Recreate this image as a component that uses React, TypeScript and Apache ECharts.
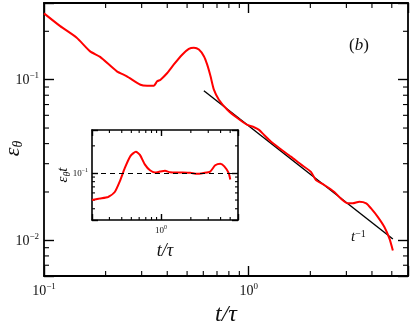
import React, { useEffect, useRef } from 'react';
import * as echarts from 'echarts';

// main curve: eps_theta vs t/tau
const mainT = [0.1, 0.12, 0.1445, 0.168, 0.188, 0.227, 0.254, 0.296, 0.319, 0.344, 0.357, 0.371, 0.40, 0.43, 0.473, 0.51, 0.54, 0.571, 0.604, 0.627, 0.651, 0.676, 0.715, 0.786, 0.88, 0.985, 1.062, 1.123, 1.189, 1.282, 1.435, 1.607, 1.798, 2.014, 2.13, 2.34, 2.62, 2.82, 3.05, 3.22, 3.47, 3.75, 3.96, 4.27, 4.6, 4.87, 5.06];
const mainEps = [0.2585, 0.2153, 0.1824, 0.150, 0.1387, 0.1127, 0.105, 0.093, 0.0917, 0.0917, 0.0976, 0.1, 0.11, 0.124, 0.143, 0.1555, 0.158, 0.154, 0.14, 0.124, 0.105, 0.0866, 0.075, 0.065, 0.0577, 0.0523, 0.0506, 0.0487, 0.0453, 0.0412, 0.0369, 0.0332, 0.0297, 0.0267, 0.0237, 0.0221, 0.02, 0.0182, 0.017, 0.017, 0.0174, 0.017, 0.0158, 0.014, 0.0121, 0.01025, 0.00866];

// t^-1 reference line end points
const fitT = [0.604, 5.06];
const fitEps = [0.0854, 0.0102];

// inset: eps_theta * t vs t/tau
const insetT = [0.2, 0.239, 0.291, 0.34, 0.383, 0.43, 0.491, 0.556, 0.611, 0.687, 0.772, 0.867, 0.975, 1.096, 1.232, 1.556, 1.968, 2.30, 2.69, 3.14, 3.53, 3.97, 4.36, 4.82, 5.01];
const insetVal = [0.0501, 0.0519, 0.054, 0.0614, 0.081, 0.1138, 0.155, 0.172, 0.159, 0.1236, 0.107, 0.101, 0.1036, 0.1055, 0.1018, 0.101, 0.1002, 0.0977, 0.1, 0.1036, 0.1215, 0.1268, 0.1185, 0.1002, 0.0847];
const insetRef = 0.1;

// axis ranges
const mainXRange = [0.1, 6];
const mainYRange = [0.006, 0.3];
const insetXRange = [0.2, 6];
const insetYRange = [0.03, 0.3];

// minor ticks
const mainXMinor = [0.2, 0.3, 0.4, 0.5, 0.6, 0.7, 0.8, 0.9, 2, 3, 4, 5];
const mainYMinor = [0.007, 0.008, 0.009, 0.02, 0.03, 0.04, 0.05, 0.06, 0.07, 0.08, 0.09, 0.2];
const insetXMinor = [0.3, 0.4, 0.5, 0.6, 0.7, 0.8, 0.9, 2, 3, 4, 5];
const insetYMinor = [0.04, 0.05, 0.06, 0.07, 0.08, 0.09, 0.2];

const SERIF = "'Liberation Serif', 'DejaVu Serif', serif";
const INK = '#111';

const pow10Label = (v: number) => {
  const e = Math.log10(v);
  const r = Math.round(e);
  if (Math.abs(e - r) > 1e-6) return '';
  return `{b|10}{s|${r < 0 ? '\u2212' + -r : r}}`;
};

function logAxis(grid: number, pos: string, range: number[], big: boolean, labels: boolean, tickLen: number, extra: any = {}) {
  return {
    type: 'log',
    gridIndex: grid,
    position: pos,
    min: range[0],
    max: range[1],
    nameMoveOverlap: false,
    axisLine: { show: true, onZero: false, lineStyle: { color: '#000', width: big ? 1.8 : 1.6 } },
    axisTick: { show: true, inside: true, length: tickLen, lineStyle: { color: '#000', width: 1.4 } },
    splitLine: { show: false },
    axisLabel: {
      show: labels,
      formatter: pow10Label,
      margin: big ? 5 : 4,
      color: INK,
      fontFamily: SERIF,
      rich: big
        ? {
            b: { fontSize: 14, lineHeight: 18, fontFamily: SERIF, color: INK },
            s: { fontSize: 9, lineHeight: 9, verticalAlign: 'top', fontFamily: SERIF, color: INK },
          }
        : {
            b: { fontSize: 9, lineHeight: 12, fontFamily: SERIF, color: INK },
            s: { fontSize: 6, lineHeight: 6, verticalAlign: 'top', fontFamily: SERIF, color: INK },
          },
    },
    ...extra,
  };
}

function minorTickSeries(xi: number, yi: number, values: number[], isX: boolean, len: number, xr: number[], yr: number[]) {
  return {
    type: 'custom',
    xAxisIndex: xi,
    yAxisIndex: yi,
    silent: true,
    clip: false,
    data: values.map((v) => (isX ? [v, yr[0]] : [xr[0], v])),
    encode: { x: 0, y: 1 },
    renderItem: (params: any, api: any) => {
      const cs = params.coordSys;
      const p = api.coord([api.value(0), api.value(1)]);
      const style = { stroke: '#000', lineWidth: 1.1 };
      if (isX) {
        const b = cs.y + cs.height;
        return {
          type: 'group',
          children: [
            { type: 'line', shape: { x1: p[0], y1: b, x2: p[0], y2: b - len }, style },
            { type: 'line', shape: { x1: p[0], y1: cs.y, x2: p[0], y2: cs.y + len }, style },
          ],
        };
      }
      const r = cs.x + cs.width;
      return {
        type: 'group',
        children: [
          { type: 'line', shape: { x1: cs.x, y1: p[1], x2: cs.x + len, y2: p[1] }, style },
          { type: 'line', shape: { x1: r, y1: p[1], x2: r - len, y2: p[1] }, style },
        ],
      };
    },
  };
}

export default function App() {
  const ref = useRef<HTMLDivElement>(null);
  useEffect(() => {
    if (!ref.current) return;
    const chart = echarts.init(ref.current, undefined, { renderer: 'svg' });
    const option: any = {
      animation: false,
      grid: [
        { left: 44, top: 3, width: 364, height: 273, outerBoundsMode: 'none' },
        { left: 92, top: 130, width: 146, height: 90, outerBoundsMode: 'none' },
      ],
      xAxis: [
        logAxis(0, 'bottom', mainXRange, true, true, 10, {
          name: 't/\u03c4',
          nameLocation: 'middle',
          nameGap: 25,
          nameTextStyle: { fontFamily: SERIF, fontStyle: 'italic', fontSize: 24, color: INK },
        }),
        logAxis(0, 'top', mainXRange, true, false, 10),
        logAxis(1, 'bottom', insetXRange, false, true, 6, {
          name: 't/\u03c4',
          nameLocation: 'middle',
          nameGap: 21,
          nameTextStyle: { fontFamily: SERIF, fontStyle: 'italic', fontSize: 18, color: INK },
        }),
        logAxis(1, 'top', insetXRange, false, false, 6),
      ],
      yAxis: [
        logAxis(0, 'left', mainYRange, true, true, 10, {
          name: '{a|\u03b5}{b|\u03b8}',
          nameLocation: 'middle',
          nameGap: 20,
          nameRotate: 90,
          nameTextStyle: {
            color: INK,
            padding: [0, 18, 0, 0],
            rich: {
              a: { fontSize: 22, lineHeight: 26, fontStyle: 'italic', fontFamily: SERIF, color: INK },
              b: { fontSize: 14, lineHeight: 12, fontStyle: 'italic', verticalAlign: 'bottom', fontFamily: SERIF, color: INK },
            },
          },
        }),
        logAxis(0, 'right', mainYRange, true, false, 10),
        logAxis(1, 'left', insetYRange, false, true, 6, {
          name: '{a|\u03b5}{b|\u03b8}{a|t}',
          nameLocation: 'middle',
          nameGap: 21,
          nameRotate: 90,
          nameTextStyle: {
            color: INK,
            rich: {
              a: { fontSize: 15, lineHeight: 18, fontStyle: 'italic', fontFamily: SERIF, color: INK },
              b: { fontSize: 10, lineHeight: 8, fontStyle: 'italic', verticalAlign: 'bottom', fontFamily: SERIF, color: INK },
            },
          },
        }),
        logAxis(1, 'right', insetYRange, false, false, 6),
      ],
      series: [
        {
          type: 'line',
          xAxisIndex: 0,
          yAxisIndex: 0,
          data: fitT.map((t, i) => [t, fitEps[i]]),
          showSymbol: false,
          lineStyle: { color: '#000', width: 1.4 },
        },
        {
          type: 'line',
          xAxisIndex: 0,
          yAxisIndex: 0,
          data: mainT.map((t, i) => [t, mainEps[i]]),
          showSymbol: false,
          smooth: 0.2,
          lineStyle: { color: '#ff0000', width: 2 },
        },
        {
          type: 'line',
          xAxisIndex: 2,
          yAxisIndex: 2,
          data: insetT.map((t, i) => [t, insetVal[i]]),
          showSymbol: false,
          smooth: 0.2,
          lineStyle: { color: '#ff0000', width: 2 },
          markLine: {
            silent: true,
            symbol: 'none',
            label: { show: false },
            lineStyle: { color: '#000', type: [5, 4], width: 1.2 },
            data: [{ yAxis: insetRef }],
          },
        },
        minorTickSeries(1, 1, mainXMinor, true, 5, mainXRange, mainYRange),
        minorTickSeries(1, 1, mainYMinor, false, 5, mainXRange, mainYRange),
        minorTickSeries(3, 3, insetXMinor, true, 3, insetXRange, insetYRange),
        minorTickSeries(3, 3, insetYMinor, false, 3, insetXRange, insetYRange),
      ],
      graphic: [
        {
          type: 'text',
          x: 349,
          y: 36,
          style: {
            text: '({i|b})',
            fontFamily: SERIF,
            fontSize: 17,
            fill: INK,
            rich: { i: { fontFamily: SERIF, fontSize: 17, fontStyle: 'italic', fill: INK } },
          },
        },
        {
          type: 'text',
          x: 351,
          y: 228,
          style: {
            text: '{t|t}{s|\u22121}',
            fontFamily: SERIF,
            fill: INK,
            rich: {
              t: { fontFamily: SERIF, fontSize: 15, lineHeight: 16, fontStyle: 'italic', fill: INK },
              s: { fontFamily: SERIF, fontSize: 10, lineHeight: 10, verticalAlign: 'top', fill: INK },
            },
          },
        },
      ],
    };
    chart.setOption(option);
    return () => chart.dispose();
  }, []);
  return <div ref={ref} style={{ position: 'fixed', left: 0, top: 0, width: 411, height: 325 }} />;
}
